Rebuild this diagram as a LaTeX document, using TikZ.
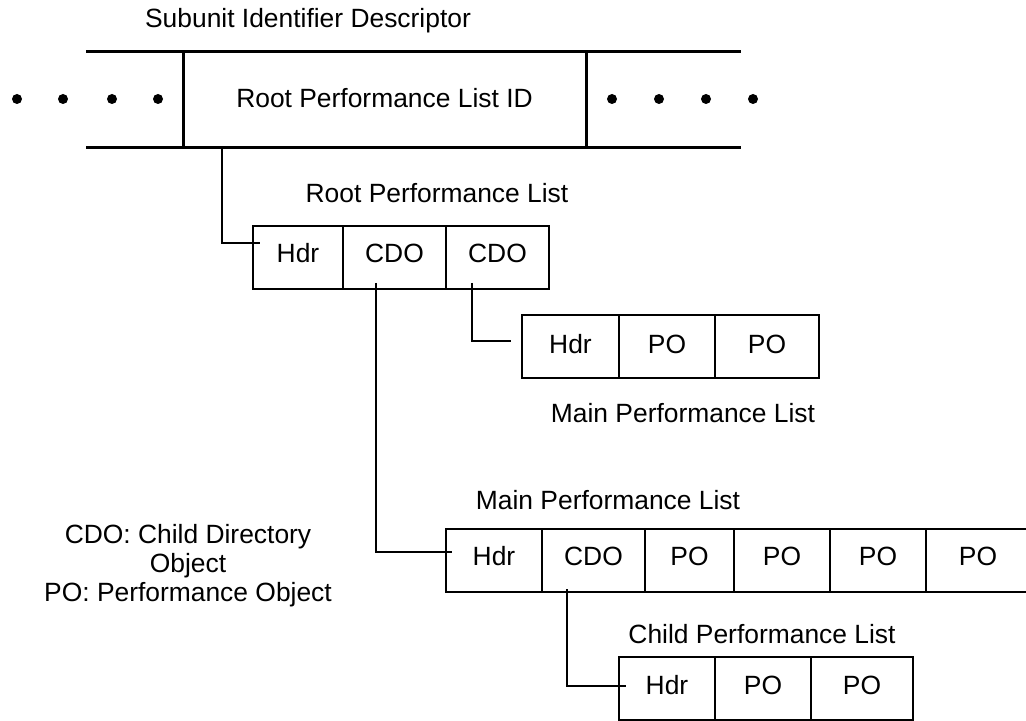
\documentclass[tikz,border=0pt]{standalone}
\usepackage{fontspec}
\setmainfont{Liberation Sans}
\usetikzlibrary{positioning,calc}

\begin{document}
\begin{tikzpicture}[x=0.5pt, y=-0.5pt, node distance=0pt]
\tikzstyle{cell}=[rectangle,
                  draw=black,
                  line width=1pt,
                  outer sep=0pt,
                  inner sep=0pt,
                  minimum height=31.5pt,
                  text height=9.5pt,
                  text depth=4.5pt,
                  font=\fontsize{13.2}{15.8}\selectfont]
\tikzstyle{title}=[inner sep=0pt,
                   font=\fontsize{13.2}{14.5}\selectfont]
\tikzstyle{bar}=[line width=1.5pt]
\tikzstyle{link}=[line width=0.8pt]

\useasboundingbox (0,0) rectangle (1026,721);

% subunit identifier descriptor
\node[title] (sidtitle) at (308,21) {Subunit Identifier Descriptor};
\node[cell, line width=1.5pt, minimum width=201.5pt, minimum height=48pt,
  text depth=2pt] (rootid) at (384.5,100) {Root Performance List ID};
\draw[bar] (86,52) -- (741,52);
\draw[bar] (86,148) -- (741,148);
\foreach \x in {17,63,112,158,612,659,706,753}
  \fill (\x,99) circle (2.5pt);

% root performance list
\node[title] (roottitle) at (437,193) {Root Performance List};
\node[cell, minimum width=45pt] (rhdr) at (298,257.5) {Hdr};
\node[cell, minimum width=51.5pt, right=of rhdr] (rcdoa) {CDO};
\node[cell, minimum width=51.5pt, right=of rcdoa] (rcdob) {CDO};

% main performance list (upper)
\node[cell, minimum width=48.5pt, text depth=2pt] (uhdr) at (570.5,346) {Hdr};
\node[cell, minimum width=48pt, right=of uhdr, text depth=2pt] (upoa) {PO};
\node[cell, minimum width=52pt, right=of upoa, text depth=2pt] (upob) {PO};
\node[title] (utitle) at (683,413) {Main Performance List};

% main performance list (lower)
\node[title] (mtitle) at (608,500) {Main Performance List};
\node[cell, minimum width=48pt] (mhdr) at (494,560.5) {Hdr};
\node[cell, minimum width=51.5pt, right=of mhdr] (mcdo) {CDO};
\node[cell, minimum width=44.5pt, right=of mcdo] (mpoa) {PO};
\node[cell, minimum width=48pt, right=of mpoa] (mpob) {PO};
\node[cell, minimum width=48pt, right=of mpob] (mpoc) {PO};
\node[cell, minimum width=52pt, right=of mpoc] (mpod) {PO};

% child performance list
\node[title] (ctitle) at (762,634) {Child Performance List};
\node[cell, minimum width=48pt, text depth=3pt] (chdr) at (667,688) {Hdr};
\node[cell, minimum width=48pt, right=of chdr, text depth=3pt] (cpoa) {PO};
\node[cell, minimum width=51pt, right=of cpoa, text depth=3pt] (cpob) {PO};

\node[title, align=center] (legend) at (188,566)
  {CDO: Child Directory\\Object\\PO: Performance Object};

\draw[link]
($(rootid.south west)+(39,0)$) |- ($(rhdr.west)+(7,-14.5)$);
\draw[link]
($(rcdoa.south)+(-18.5,-6)$) |- ($(mhdr.west)+(6,-8.5)$);
\draw[link]
($(rcdob.south)+(-25.5,-6)$) |- ($(uhdr.west)+(-11,-5)$);
\draw[link]
($(mcdo.south)+(-26.5,-3)$) |- ($(chdr.west)+(7,-2)$);
\end{tikzpicture}
\end{document}
